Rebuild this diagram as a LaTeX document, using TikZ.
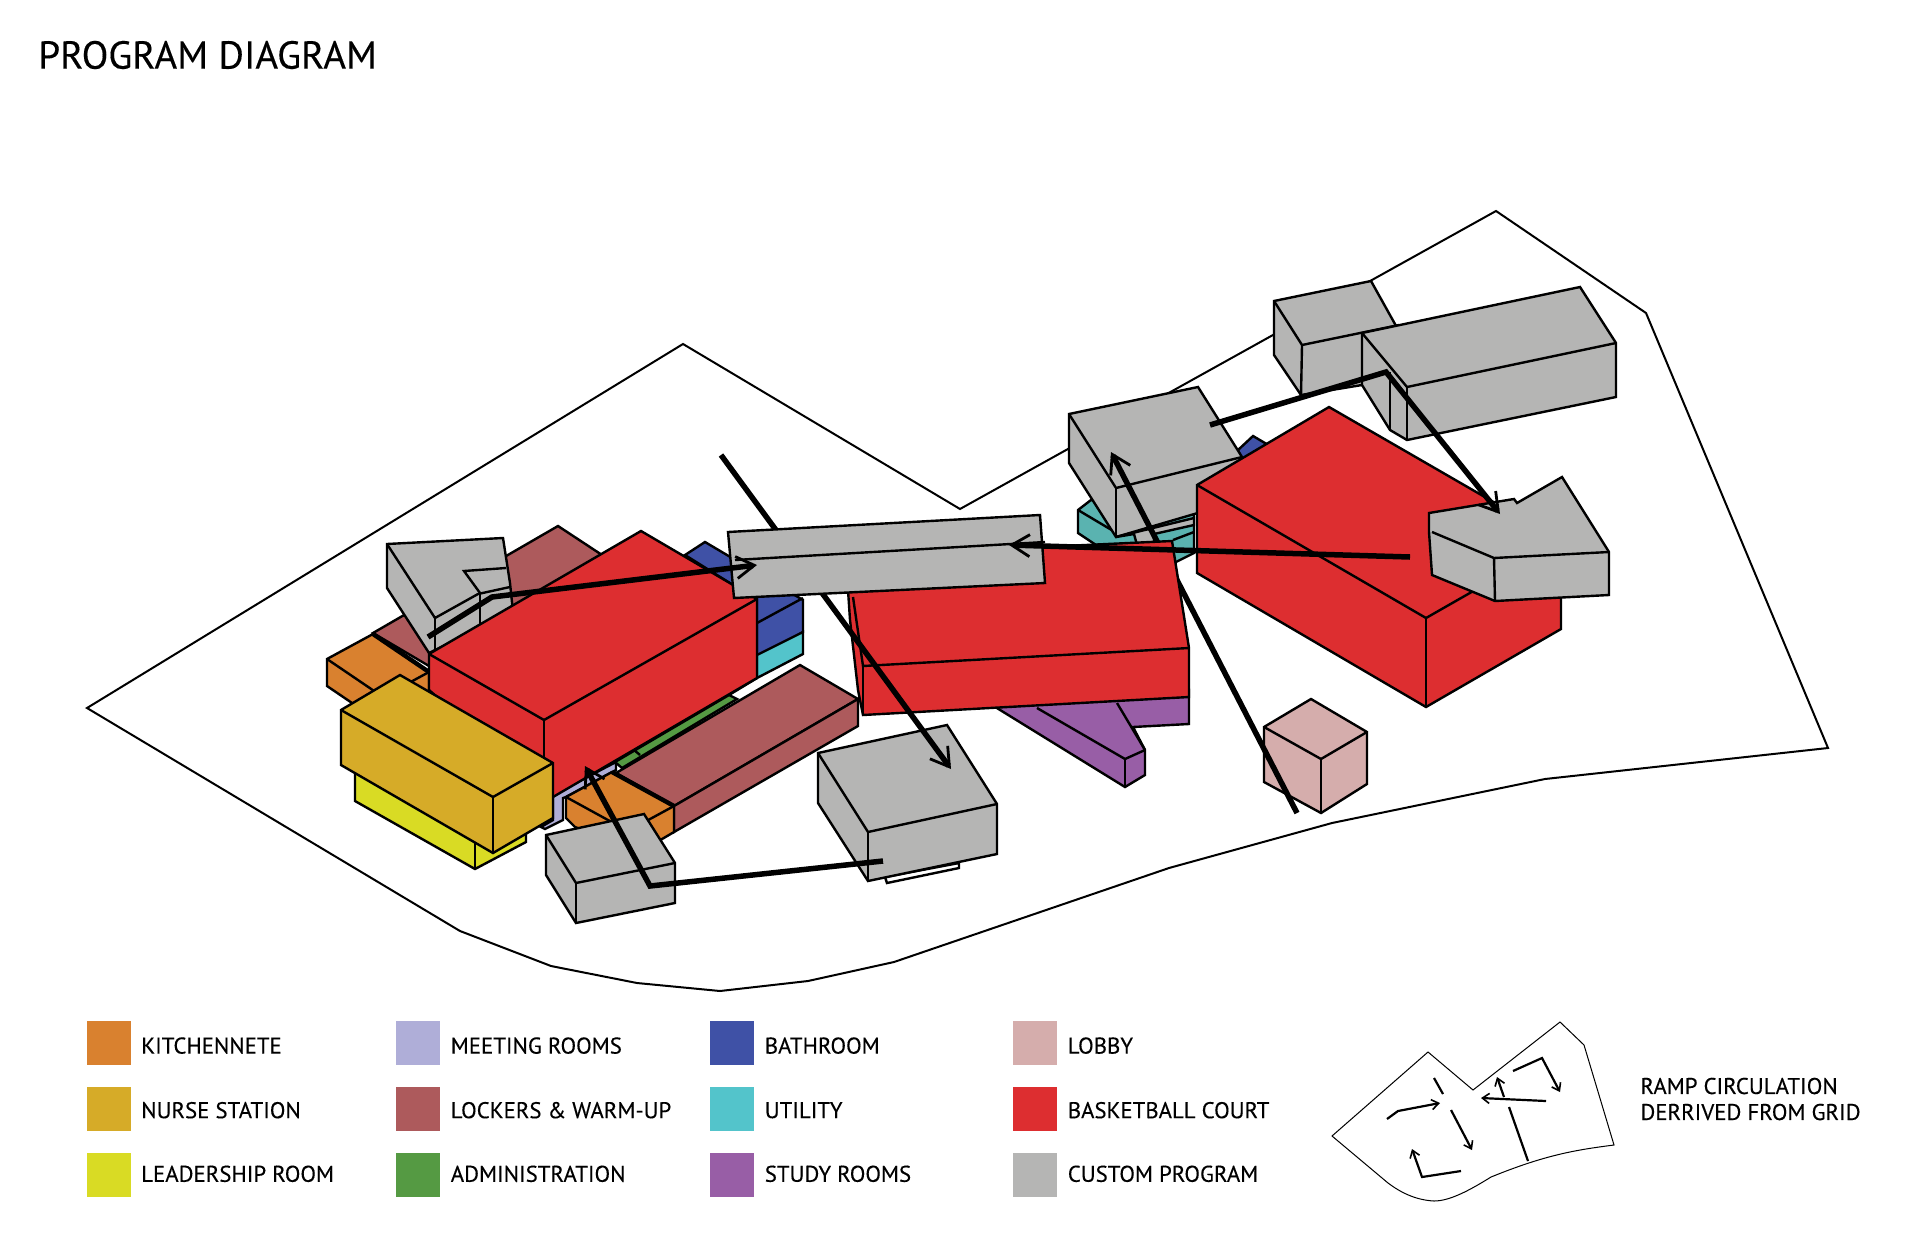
\documentclass[tikz,border=0pt]{standalone}
\usepackage{fontspec}
\setmainfont{PT Sans}[FakeBold=0.25]
\usetikzlibrary{arrows.meta,positioning}
\definecolor{cKitchen}{HTML}{D9812F}
\definecolor{cNurse}{HTML}{D6AB28}
\definecolor{cLeader}{HTML}{D9DB24}
\definecolor{cMeeting}{HTML}{AFAED8}
\definecolor{cLocker}{HTML}{AD5A5C}
\definecolor{cAdmin}{HTML}{559A43}
\definecolor{cBath}{HTML}{3F51A6}
\definecolor{cUtil}{HTML}{53C4CB}
\definecolor{cTeal}{HTML}{5AB3B0}
\definecolor{cStudy}{HTML}{985EA6}
\definecolor{cLobby}{HTML}{D5ADAC}
\definecolor{cCourt}{HTML}{DD2E30}
\definecolor{cCustom}{HTML}{B5B5B4}
\tikzset{
	wall/.style={draw=black,line width=1.2pt},
	site/.style={draw=black,line width=1pt},
	ramp/.style={draw=black,line width=2.75pt,-{Straight Barb[length=9pt,width=11pt,line width=1.4pt]}},
	rampend/.style={draw=black,line width=2.75pt},
	swatch/.style={minimum width=22pt,minimum height=22pt,inner sep=0pt},
	legtxt/.style={inner sep=0pt,font=\fontsize{11.4}{13}\selectfont},
	miniramp/.style={draw=black,line width=1.1pt,-{Straight Barb[length=3.5pt,width=5pt,line width=.8pt]}}
}
\begin{document}
\begin{tikzpicture}[x=0.5pt,y=-0.5pt]
\useasboundingbox (0,0) rectangle (1920,1242);
\node[anchor=west,inner sep=0pt,font=\fontsize{19.5}{22}\selectfont] (title) at (38,55) {PROGRAM DIAGRAM};
% site
\draw[site] (87,708) -- (683,344) -- (960,509) -- (1496,211) -- (1646,313) -- (1828,748)
	-- (1545,779) -- (1332,823) -- (1169,868) -- (894,962) -- (808,981) -- (720,991)
	-- (637,983) -- (551,966) -- (460,931) -- cycle;
% left cluster
\draw[wall,fill=cLocker] (373,633) -- (558,526) -- (640,580) -- (500,670) -- (429,666) -- cycle;
\draw[wall,fill=cKitchen] (327,659) -- (373,634) -- (429,672) -- (429,700) -- (383,724) -- (327,686) -- cycle;
\draw[wall] (327,659) -- (383,697) -- (429,672);
\draw[rampend,line width=2.2pt] (373,634) -- (429,672);
\draw[wall,fill=cCustom] (387,544) -- (503,538) -- (510,583) -- (513,612) -- (429,653) -- (387,588) -- cycle;
\draw[wall] (387,544) -- (435,618) -- (478,594) -- (510,587);
\draw[wall] (435,618) -- (435,650);
\draw[wall] (480,593) -- (480,625);
\draw[wall] (506,568) -- (464,571) -- (480,593);
\draw[wall,fill=cBath] (685,555) -- (705,542) -- (803,600) -- (803,632) -- (757,660) -- (757,600) -- cycle;
\draw[wall] (757,623) -- (803,598);
\draw[wall,fill=cUtil] (757,655) -- (803,632) -- (803,654) -- (757,678) -- cycle;
\draw[wall,fill=cMeeting] (553,795) -- (616,762) -- (616,770) -- (566,797) -- (563,798) -- (563,820) -- (545,829) -- (541,827) -- (553,820) -- cycle;
\draw[wall,fill=cLocker] (616,773) -- (800,665) -- (858,699) -- (674,806) -- cycle;
\draw[wall,fill=cLocker] (674,806) -- (858,699) -- (858,726) -- (674,832) -- cycle;
\draw[wall,fill=cAdmin] (615,762) -- (729,695) -- (737,699) -- (622,768) -- cycle;
\draw[wall] (634,750) -- (640,755);
\draw[wall] (729,695) -- (757,678);
\draw[wall,fill=cCourt] (429,654) -- (641,531) -- (757,599) -- (757,678) -- (553,797) -- (429,690) -- cycle;
\draw[wall] (429,654) -- (544,720) -- (757,599);
\draw[wall] (544,720) -- (544,800);
\draw[wall,fill=cKitchen] (566,797) -- (612,772) -- (674,806) -- (674,832) -- (640,852) -- (575,827) -- (566,818) -- cycle;
\draw[wall] (566,797) -- (628,831) -- (674,806);
\draw[rampend,line width=2.2pt] (612,772) -- (674,806);
\draw[wall,fill=cLeader] (355,770) -- (355,801) -- (475,869) -- (526,842) -- (526,830) -- (475,840) -- cycle;
\draw[wall] (475,840) -- (475,869);
\draw[wall,fill=cNurse] (341,710) -- (400,675) -- (553,763) -- (553,818) -- (493,853) -- (341,765) -- cycle;
\draw[wall] (341,710) -- (493,797) -- (553,763);
\draw[wall] (493,797) -- (493,853);
\draw[wall,fill=cCustom] (546,835) -- (644,814) -- (675,863) -- (675,903) -- (576,923) -- (546,875) -- cycle;
\draw[wall] (546,835) -- (576,883) -- (675,863);
\draw[wall] (576,883) -- (576,923);
% back of the middle
\draw[wall,fill=cTeal] (1091,500) -- (1078,510) -- (1078,533) -- (1096,545) -- (1172,545) -- (1174,563) -- (1194,553) -- (1194,515) -- cycle;
\draw[wall] (1078,510) -- (1120,535);
\draw[wall] (1173,540) -- (1194,532);
\draw[wall,fill=cBath] (1238,450) -- (1253,436) -- (1270,446) -- (1245,470) -- cycle;
\draw[wall,fill=cCustom] (1069,414) -- (1198,387) -- (1242,457) -- (1242,500) -- (1116,537) -- (1069,463) -- cycle;
\draw[wall] (1069,414) -- (1116,488) -- (1242,457);
\draw[wall] (1116,488) -- (1116,537);
\draw[wall,fill=cCustom] (1116,537) -- (1194,518) -- (1194,525) -- (1154,534) -- (1154,545) -- (1137,545) -- (1134,534) -- cycle;
\draw[wall,fill=cLobby] (1311,699) -- (1367,732) -- (1367,784) -- (1321,813) -- (1264,782) -- (1264,727) -- cycle;
\draw[wall] (1264,727) -- (1321,759) -- (1367,732);
\draw[wall] (1321,759) -- (1321,813);
\draw[ramp] (1297,813) -- (1111,452);
% middle block
\draw[wall,fill=cStudy] (992,705) -- (1189,690) -- (1189,724) -- (1133,727) -- (1145,750) -- (1145,775) -- (1125,787) -- cycle;
\draw[wall] (1037,708) -- (1125,759) -- (1145,750);
\draw[wall] (1125,759) -- (1125,787);
\draw[wall] (1117,703) -- (1145,750);
\draw[wall,fill=cCourt] (848,590) -- (848,556) -- (1172,541) -- (1189,648) -- (1189,697) -- (863,715) -- (858,690) -- (850,620) -- cycle;
\draw[wall] (853,597) -- (863,666) -- (1189,648);
\draw[wall] (863,666) -- (863,715);
\draw[wall,fill=white] (885,877) -- (959,863) -- (959,868) -- (887,883) -- cycle;
\draw[wall,fill=cCustom] (818,753) -- (947,725) -- (997,804) -- (997,854) -- (868,881) -- (818,803) -- cycle;
\draw[wall] (818,753) -- (868,832) -- (997,804);
\draw[wall] (868,832) -- (868,881);
\draw[ramp] (721,455) -- (951,769);
\draw[wall,fill=cCustom] (728,532) -- (1040,515) -- (1045,583) -- (734,598) -- cycle;
\draw[wall] (735,560) -- (1045,542);
% right blocks
\draw[wall,fill=cCustom] (1274,301) -- (1371,281) -- (1415,360) -- (1362,385) -- (1301,395) -- (1274,355) -- cycle;
\draw[wall] (1274,301) -- (1302,345) -- (1399,325);
\draw[wall] (1302,345) -- (1301,395);
\draw[wall,fill=cCustom] (1362,333) -- (1580,287) -- (1616,343) -- (1616,397) -- (1407,440) -- (1390,430) -- (1362,385) -- cycle;
\draw[wall] (1362,333) -- (1407,387) -- (1616,343);
\draw[wall] (1407,387) -- (1407,440);
\draw[wall] (1390,372) -- (1390,430);
\draw[wall,fill=cCourt] (1329,407) -- (1561,541) -- (1561,629) -- (1426,707) -- (1197,573) -- (1197,485) -- cycle;
\draw[wall] (1197,485) -- (1426,618) -- (1561,541);
\draw[wall] (1426,618) -- (1426,707);
\draw[wall,fill=cCustom] (1429,513) -- (1514,499) -- (1517,503) -- (1562,477) -- (1609,552) -- (1609,595) -- (1495,601) -- (1432,575) -- (1429,532) -- cycle;
\draw[wall] (1432,532) -- (1494,558) -- (1609,552);
\draw[wall] (1494,558) -- (1495,601);
% ramps on top
\draw[ramp] (428,637) -- (492,597) -- (757,565);
\draw[ramp] (883,861) -- (650,886) -- (585,766);
\draw[ramp] (1410,557) -- (1009,545);
\draw[ramp] (1210,425) -- (1386,372) -- (1500,514);
% legend
\node[swatch,fill=cKitchen] (swA) at (108.5,1043) {};
\node[swatch,fill=cNurse] (swB) at (108.5,1109) {};
\node[swatch,fill=cLeader] (swC) at (108.5,1175) {};
\node[swatch,fill=cMeeting] (swD) at (418,1043) {};
\node[swatch,fill=cLocker] (swE) at (418,1109) {};
\node[swatch,fill=cAdmin] (swF) at (418,1175) {};
\node[swatch,fill=cBath] (swG) at (732,1043) {};
\node[swatch,fill=cUtil] (swH) at (732,1109) {};
\node[swatch,fill=cStudy] (swI) at (732,1175) {};
\node[swatch,fill=cLobby] (swJ) at (1035,1043) {};
\node[swatch,fill=cCourt] (swK) at (1035,1109) {};
\node[swatch,fill=cCustom] (swL) at (1035,1175) {};
\node[legtxt,right=5pt of swA,yshift=-1.3pt] (txA) {KITCHENNETE};
\node[legtxt,right=5pt of swB,yshift=-.6pt] (txB) {NURSE STATION};
\node[legtxt,right=5pt of swC,yshift=.6pt] (txC) {LEADERSHIP ROOM};
\node[legtxt,right=5pt of swD,yshift=-1.3pt] (txD) {MEETING ROOMS};
\node[legtxt,right=5pt of swE,yshift=-.6pt] (txE) {LOCKERS \& WARM-UP};
\node[legtxt,right=5pt of swF,yshift=.6pt] (txF) {ADMINISTRATION};
\node[legtxt,right=5pt of swG,yshift=-1.3pt] (txG) {BATHROOM};
\node[legtxt,right=5pt of swH,yshift=-.6pt] (txH) {UTILITY};
\node[legtxt,right=5pt of swI,yshift=.6pt] (txI) {STUDY ROOMS};
\node[legtxt,right=5pt of swJ,yshift=-1.3pt] (txJ) {LOBBY};
\node[legtxt,right=5pt of swK,yshift=-.6pt] (txK) {BASKETBALL COURT};
\node[legtxt,right=5pt of swL,yshift=.6pt] (txL) {CUSTOM PROGRAM};
% small plan
\draw[line width=.5pt] (1332,1136) -- (1428,1052) -- (1473,1090) -- (1560,1022) -- (1584,1045) -- (1614,1145)
	.. controls (1575,1150) and (1545,1155) .. (1491,1177)
	.. controls (1470,1190) and (1450,1201) .. (1434,1201)
	.. controls (1415,1200) and (1400,1192) .. (1388,1183) -- cycle;
\draw[miniramp] (1387,1119) -- (1398,1111) -- (1440,1103);
\draw[miniramp,-] (1434,1078) -- (1443,1094);
\draw[miniramp] (1451,1110) -- (1472,1150);
\draw[miniramp] (1461,1171) -- (1422,1177) -- (1412,1149);
\draw[miniramp,-] (1528,1161) -- (1509,1107);
\draw[miniramp] (1504,1097) -- (1497,1077);
\draw[miniramp] (1546,1101) -- (1481,1098);
\draw[miniramp] (1513,1071) -- (1542,1058) -- (1560,1092);
\node[legtxt,anchor=west,align=left,font=\fontsize{11.4}{13}\selectfont] (ramptxt) at (1640,1099) {RAMP CIRCULATION\\DERRIVED FROM GRID};
\end{tikzpicture}
\end{document}
